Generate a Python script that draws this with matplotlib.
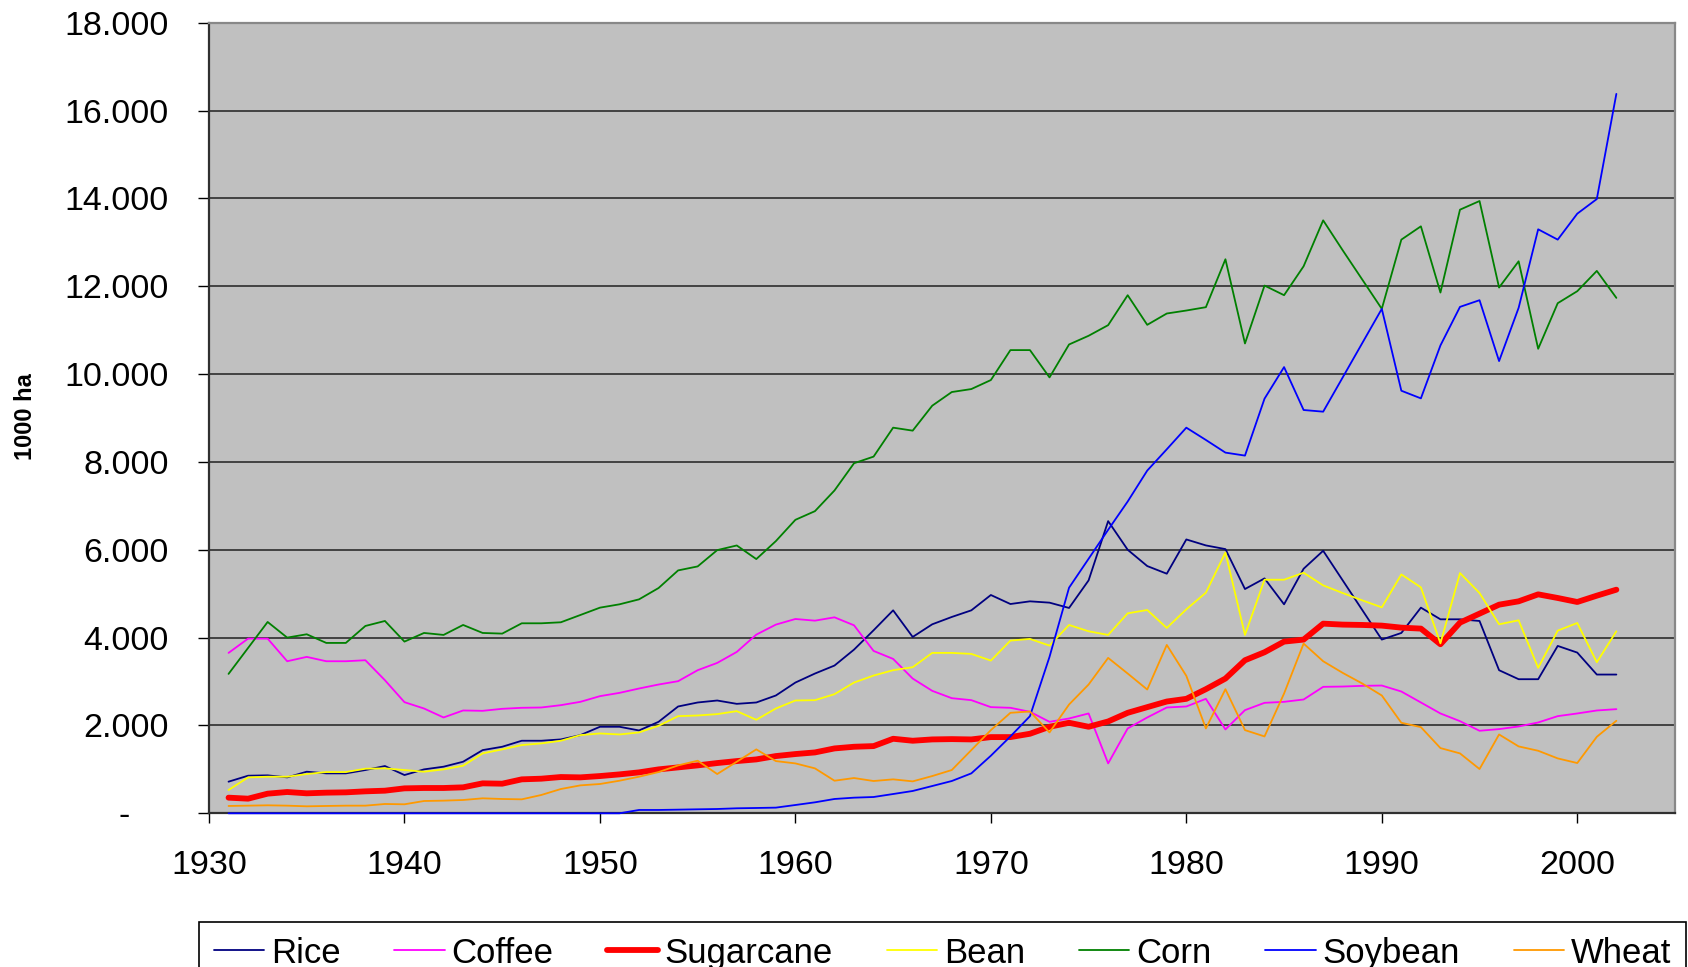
import numpy as np
import matplotlib
matplotlib.use("Agg")
import matplotlib.pyplot as plt
from matplotlib.ticker import FuncFormatter

plt.rcParams['font.family'] = ['Liberation Sans', 'DejaVu Sans']

years = list(range(1931, 2003))

rice = [720, 856, 864, 818, 947, 909, 909, 985, 1076, 871,
        1000, 1061, 1174, 1439, 1515, 1652, 1652, 1682, 1780, 1970,
        1970, 1886, 2083, 2432, 2523, 2568, 2492, 2523, 2682, 2977,
        3182, 3364, 3727, 4167, 4621, 4015, 4303, 4470, 4621, 4970,
        4765, 4826, 4796, 4675, 5303, 6652, 6000, 5629, 5455, 6235,
        6099, 6015, 5106, 5348, 4758, 5568, 5977, 5303, 4629, 3955,
        4106, 4682, 4417, 4417, 4379, 3258, 3053, 3053, 3811, 3659,
        3159, 3159]

coffee = [3652, 3977, 3977, 3462, 3561, 3462, 3462, 3485, 3030, 2530,
          2386, 2182, 2341, 2333, 2379, 2402, 2409, 2462, 2538, 2667,
          2742, 2841, 2932, 3008, 3258, 3424, 3674, 4068, 4296, 4424,
          4386, 4462, 4280, 3697, 3515, 3068, 2788, 2621, 2576, 2417,
          2402, 2311, 2083, 2159, 2273, 1136, 1932, 2182, 2409, 2432,
          2606, 1909, 2349, 2515, 2538, 2591, 2879, 2886, 2902, 2909,
          2773, 2523, 2273, 2098, 1879, 1917, 1977, 2068, 2212, 2273,
          2341, 2371]

sugarcane = [356, 333, 447, 485, 455, 470, 477, 500, 515, 568,
             576, 576, 591, 682, 674, 773, 788, 826, 818, 848,
             886, 932, 1000, 1045, 1091, 1144, 1189, 1227, 1303, 1349,
             1386, 1477, 1515, 1530, 1697, 1652, 1682, 1689, 1682, 1735,
             1735, 1811, 1970, 2061, 1970, 2091, 2288, 2417, 2545, 2606,
             2826, 3068, 3485, 3667, 3909, 3955, 4318, 4296, 4288, 4273,
             4227, 4205, 3849, 4341, 4546, 4750, 4826, 4985, 4902, 4811,
             4955, 5091]

bean = [530, 818, 833, 833, 894, 939, 939, 1015, 1023, 985,
        947, 1000, 1083, 1364, 1455, 1553, 1591, 1652, 1780, 1818,
        1795, 1841, 1992, 2212, 2227, 2258, 2326, 2129, 2386, 2568,
        2576, 2712, 2977, 3136, 3258, 3326, 3652, 3652, 3629, 3477,
        3932, 3970, 3818, 4288, 4144, 4061, 4553, 4629, 4220, 4644,
        5023, 5939, 4061, 5318, 5318, 5477, 5189, 5015, 4848, 4689,
        5439, 5144, 3870, 5470, 5015, 4303, 4394, 3311, 4159, 4333,
        3439, 4144]

corn = [3174, 3765, 4356, 4000, 4076, 3879, 3879, 4265, 4379, 3909,
        4106, 4061, 4288, 4106, 4091, 4326, 4326, 4349, 4515, 4682,
        4758, 4871, 5129, 5530, 5621, 5992, 6098, 5788, 6197, 6682,
        6879, 7350, 7970, 8121, 8780, 8712, 9280, 9591, 9659, 9864,
        10546, 10546, 9924, 10674, 10872, 11114, 11796, 11121, 11379, 11447,
        11523, 12614, 10697, 12015, 11796, 12455, 13500, 12818, 12152, 11485,
        13061, 13364, 11856, 13743, 13940, 11970, 12568, 10576, 11614, 11887,
        12349, 11735]

soybean = [0, 0, 0, 0, 0, 0, 0, 0, 0, 0,
           0, 0, 0, 0, 0, 0, 0, 0, 0, 0,
           0, 76, 76, 83, 91, 98, 114, 121, 129, 189,
           250, 326, 356, 371, 439, 508, 621, 735, 909, 1311,
           1750, 2212, 3561, 5136, 5795, 6455, 7099, 7803, 8288, 8780,
           8500, 8212, 8144, 9440, 10159, 9182, 9144, 9924, 10705, 11485,
           9621, 9447, 10652, 11530, 11682, 10296, 11508, 13296, 13061, 13652,
           13985, 16379]

wheat = [167, 174, 182, 174, 159, 167, 174, 174, 212, 205,
         280, 288, 303, 341, 326, 318, 417, 553, 636, 667,
         742, 833, 939, 1091, 1197, 894, 1174, 1455, 1189, 1136,
         1023, 742, 803, 735, 773, 727, 848, 985, 1439, 1894,
         2288, 2318, 1841, 2477, 2932, 3538, 3182, 2818, 3833, 3129,
         1932, 2826, 1894, 1750, 2727, 3864, 3462, 3197, 2955, 2682,
         2061, 1962, 1485, 1364, 1008, 1795, 1523, 1424, 1250, 1144,
         1742, 2106]

series = [("Rice", rice, "#000080", 1.3),
          ("Coffee", coffee, "#FF00FF", 1.3),
          ("Sugarcane", sugarcane, "#FF0000", 4.2),
          ("Bean", bean, "#FFFF00", 1.3),
          ("Corn", corn, "#008000", 1.3),
          ("Soybean", soybean, "#0000FF", 1.3),
          ("Wheat", wheat, "#FF9900", 1.3)]

fig = plt.figure(figsize=(16.88, 9.67), dpi=100)
ax = fig.add_axes([209 / 1688, 1 - 813.3 / 967, (1675 - 209) / 1688, (813.3 - 22.7) / 967])
ax.set_facecolor("#C0C0C0")

for name, vals, col, lw in series:
    ax.plot(years, vals, color=col, lw=lw, label=name, zorder=3, clip_on=False,
            solid_joinstyle="round", solid_capstyle="round")

ax.set_xlim(1930, 2005)
ax.set_ylim(0, 18000)
ax.set_xticks(range(1930, 2001, 10))
ax.set_yticks(range(0, 18001, 2000))


def fmt(v, pos):
    if v == 0:
        return "-    "
    return "{:,.0f}".format(v).replace(",", ".")


ax.yaxis.set_major_formatter(FuncFormatter(fmt))
ax.yaxis.grid(True, color="#202020", lw=1.1)
ax.set_axisbelow(True)

ax.tick_params(axis="y", direction="out", length=8, width=1, pad=21, labelsize=24.5)
ax.tick_params(axis="x", direction="out", length=7.5, width=1, pad=19, labelsize=24.5)

for s in ["left", "bottom"]:
    ax.spines[s].set_color("#303030")
    ax.spines[s].set_linewidth(1.6)
for s in ["top", "right"]:
    ax.spines[s].set_color("#888888")
    ax.spines[s].set_linewidth(1.6)

fig.text(25 / 1688, 1 - 417 / 967, "1000 ha", rotation=90, fontsize=17,
         fontweight="bold", ha="center", va="center")

leg = fig.legend(loc="upper left", bbox_to_anchor=(199 / 1688, 1 - 922 / 967),
                 ncol=7, fontsize=25, frameon=True, fancybox=False,
                 edgecolor="black", facecolor="white", framealpha=1,
                 handlelength=1.45, handletextpad=0.2, columnspacing=1.55,
                 borderpad=0.42, borderaxespad=0)
leg.get_frame().set_linewidth(1.2)

fig.savefig("out.png", dpi=100)
